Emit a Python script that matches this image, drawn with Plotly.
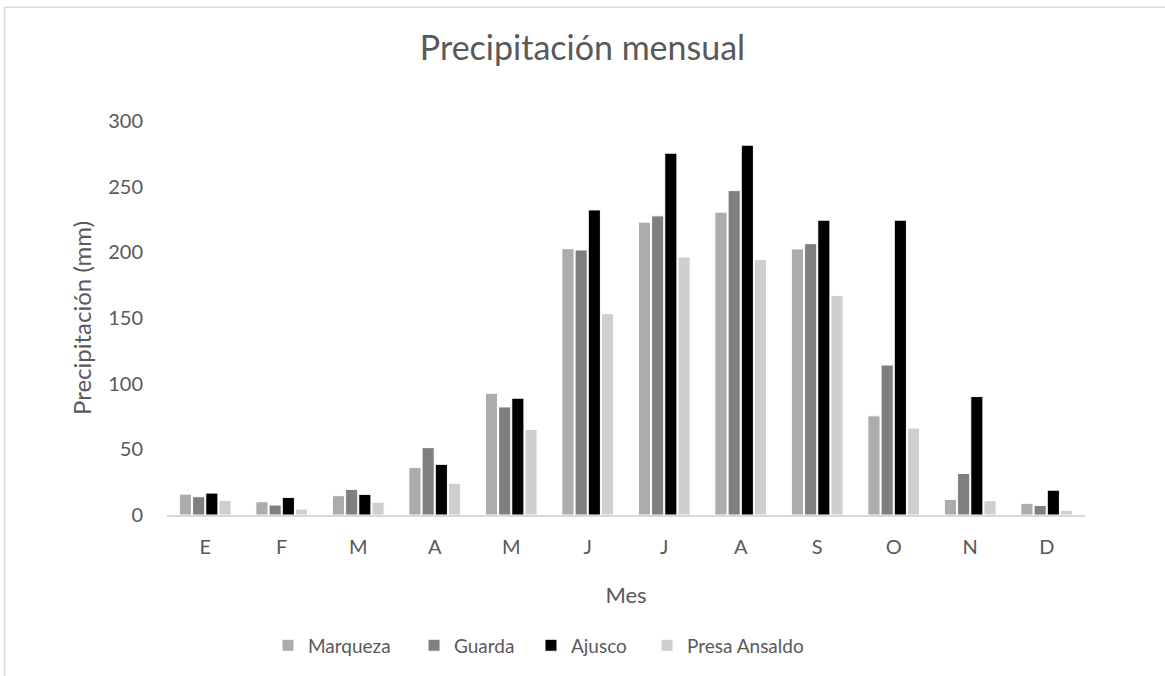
import plotly.graph_objects as go

# Monthly precipitation (mm) by station
meses = ["E", "F", "M", "A", "M", "J", "J", "A", "S", "O", "N", "D"]
marqueza = [15.9, 10.1, 14.7, 36.1, 92.7, 202.8, 223.0, 230.6, 202.6, 75.5, 11.9, 8.9]
guarda = [13.9, 7.6, 19.5, 51.3, 82.3, 201.8, 227.8, 247.0, 206.6, 114.2, 31.6, 7.3]
ajusco = [16.7, 13.4, 15.7, 38.6, 88.9, 232.3, 275.5, 281.6, 224.5, 224.5, 90.2, 18.9]
presa_ansaldo = [11.1, 4.5, 9.8, 24.2, 65.2, 153.3, 196.5, 194.5, 167.2, 66.2, 10.9, 3.6]

series = [
    ("Marqueza", marqueza, "#AEABAB"),
    ("Guarda", guarda, "#7F7F7F"),
    ("Ajusco", ajusco, "#000000"),
    ("Presa Ansaldo", presa_ansaldo, "#D0CECE"),
]

FONT = "Lato"
TXT = "#595959"
positions = list(range(len(meses)))

# one legend per series so the entries can be spaced along the bottom
legend_ids = ["legend", "legend2", "legend3", "legend4"]
legend_x = [0.110, 0.2691, 0.3965, 0.5229]

fig = go.Figure()
for (name, vals, color), lid in zip(series, legend_ids):
    fig.add_trace(go.Bar(
        x=positions, y=vals, name=name, legend=lid, showlegend=True,
        marker=dict(color=color, line=dict(color="#FFFFFF", width=1)),
    ))

legend_layout = {}
for lid, lx in zip(legend_ids, legend_x):
    legend_layout[lid] = dict(
        orientation="h", x=lx, xanchor="left", y=-0.331, yanchor="middle",
        bgcolor="rgba(0,0,0,0)",
        font=dict(family=FONT, size=19, color=TXT),
    )

# chart frame
frame = "#D9D9D9"
fig.add_shape(type="line", xref="paper", yref="paper", x0=-0.177, x1=-0.177, y0=-0.5, y1=1.289,
              line=dict(color=frame, width=1.5))
fig.add_shape(type="line", xref="paper", yref="paper", x0=-0.177, x1=1.2, y0=1.289, y1=1.289,
              line=dict(color=frame, width=1.5))

fig.update_layout(
    width=1165, height=676,
    margin=dict(l=167, r=80, t=121, b=159),
    paper_bgcolor="white", plot_bgcolor="white",
    showlegend=True,
    barmode="group", bargap=0.31, bargroupgap=0.08,
    font=dict(family=FONT, color=TXT),
    title=dict(text="Precipitación mensual", x=0.5, xanchor="center",
               y=1 - 48 / 676, yanchor="middle",
               font=dict(family=FONT, size=34, color=TXT)),
    xaxis=dict(
        tickmode="array", tickvals=positions, ticktext=meses,
        range=[-0.5, len(meses) - 0.5],
        showline=True, linecolor="#D9D9D9", linewidth=2,
        showgrid=False, zeroline=False, ticks="",
        ticklabelstandoff=13,
        tickfont=dict(family=FONT, size=20, color=TXT),
        title=dict(text="Mes", standoff=31, font=dict(family=FONT, size=22, color=TXT)),
    ),
    yaxis=dict(
        range=[0, 300], tickmode="linear", tick0=0, dtick=50,
        showline=False, showgrid=False, zeroline=False, ticks="",
        ticklabelstandoff=23,
        tickfont=dict(family=FONT, size=20, color=TXT),
        title=dict(text="Precipitación (mm)", standoff=9, font=dict(family=FONT, size=24, color=TXT)),
    ),
    **legend_layout,
)

fig.write_html("out.html")
